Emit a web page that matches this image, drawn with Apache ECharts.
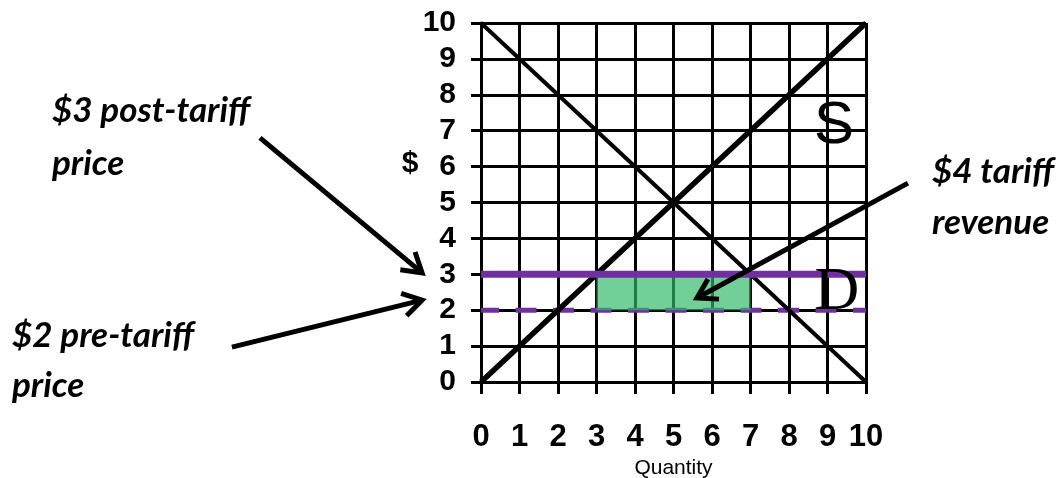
<!DOCTYPE html>
<html>
<head>
<meta charset="utf-8">
<script src="https://cdn.jsdelivr.net/npm/echarts@6/dist/echarts.min.js"></script>
<style>
  html, body { margin: 0; padding: 0; background: #fff; }
  #chart { width: 1063px; height: 478px; }
</style>
</head>
<body>
<div id="chart"></div>
<script>
// Axis ticks (quantity and price)
const quantityTicks = [0, 1, 2, 3, 4, 5, 6, 7, 8, 9, 10];
const priceTicks = [0, 1, 2, 3, 4, 5, 6, 7, 8, 9, 10];

// Supply and demand curves (endpoints)
const supplyQuantity = [0, 10];
const supplyPrice = [0, 10];
const demandQuantity = [0, 10];
const demandPrice = [10, 0];

// World price before and after the tariff
const preTariffPrice = 2;
const postTariffPrice = 3;

// Quantity range of imports after the tariff (tariff revenue box)
const importQuantity = [3, 7];

// Callout arrows: [tailQ, tailP, tipQ, tipP] in axis units
const calloutArrows = [
  [-5.74, 6.80, -1.53, 3.04],
  [-6.47, 0.97, -1.53, 2.28],
  [11.09, 5.54, 5.61, 2.34]
];

const PURPLE = '#7030A0';
const SANS = 'Arial, sans-serif';
const NOTE = 'Lato';

const chart = echarts.init(document.getElementById('chart'), null, { renderer: 'canvas' });

const toPairs = (xs, ys) => xs.map((x, i) => [x, ys[i]]);

chart.setOption({
  animation: false,
  backgroundColor: '#fff',
  grid: { left: 481, top: 23, width: 385, height: 359, containLabel: false, outerBoundsMode: 'none' },
  xAxis: {
    type: 'value',
    min: quantityTicks[0],
    max: quantityTicks[quantityTicks.length - 1],
    interval: 1,
    name: 'Quantity',
    nameLocation: 'middle',
    nameGap: 74,
    nameTextStyle: { fontFamily: SANS, fontSize: 21, color: '#000' },
    axisLine: { show: true, lineStyle: { color: '#000', width: 3 } },
    axisTick: { show: true, length: 12, lineStyle: { color: '#000', width: 3 } },
    axisLabel: {
      margin: 40, color: '#000', fontFamily: SANS, fontSize: 31, fontWeight: 'bold',
      formatter: v => String(v)
    },
    splitLine: { show: true, lineStyle: { color: '#000', width: 3 } }
  },
  yAxis: {
    type: 'value',
    min: priceTicks[0],
    max: priceTicks[priceTicks.length - 1],
    interval: 1,
    axisLine: { show: true, lineStyle: { color: '#000', width: 3 } },
    axisTick: { show: true, length: 10, lineStyle: { color: '#000', width: 3 } },
    axisLabel: {
      margin: 25, color: '#000', fontFamily: SANS, fontSize: 30, fontWeight: 'bold',
      formatter: v => String(v)
    },
    splitLine: { show: true, lineStyle: { color: '#000', width: 3 } }
  },
  series: [
    {
      name: 'Pre-tariff price',
      type: 'line',
      z: 3,
      symbol: 'none',
      data: [[quantityTicks[0], preTariffPrice], [quantityTicks[quantityTicks.length - 1], preTariffPrice]],
      lineStyle: { color: PURPLE, width: 5, type: [21, 16.5], dashOffset: 3 }
    },
    {
      name: 'S',
      type: 'line',
      z: 3,
      symbol: 'none',
      data: toPairs(supplyQuantity, supplyPrice),
      lineStyle: { color: '#000', width: 5.5 }
    },
    {
      name: 'D',
      type: 'line',
      z: 3,
      symbol: 'none',
      data: toPairs(demandQuantity, demandPrice),
      lineStyle: { color: '#000', width: 4 }
    },
    {
      name: 'Tariff revenue',
      type: 'custom',
      z: 4,
      data: [[importQuantity[0], preTariffPrice, importQuantity[1], postTariffPrice]],
      renderItem: (params, api) => {
        const a = api.coord([api.value(0), api.value(1)]);
        const b = api.coord([api.value(2), api.value(3)]);
        return {
          type: 'rect',
          shape: { x: a[0], y: b[1], width: b[0] - a[0], height: a[1] - b[1] },
          style: { fill: 'rgba(46,184,102,0.68)' }
        };
      }
    },
    {
      name: 'Post-tariff price',
      type: 'line',
      z: 5,
      symbol: 'none',
      data: [[quantityTicks[0], postTariffPrice], [quantityTicks[quantityTicks.length - 1], postTariffPrice]],
      lineStyle: { color: PURPLE, width: 7 }
    }
  ]
});

// Callout arrows with open chevron heads
function arrowGraphics(spec) {
  const tail = chart.convertToPixel({ gridIndex: 0 }, [spec[0], spec[1]]);
  const tip = chart.convertToPixel({ gridIndex: 0 }, [spec[2], spec[3]]);
  const ang = Math.atan2(tip[1] - tail[1], tip[0] - tail[0]);
  const len = 22, spread = 0.55;
  const h1 = [tip[0] - len * Math.cos(ang - spread), tip[1] - len * Math.sin(ang - spread)];
  const h2 = [tip[0] - len * Math.cos(ang + spread), tip[1] - len * Math.sin(ang + spread)];
  const style = { stroke: '#000', lineWidth: 5, fill: null, lineCap: 'butt', lineJoin: 'miter' };
  return [
    { type: 'line', z: 10, shape: { x1: tail[0], y1: tail[1], x2: tip[0], y2: tip[1] }, style },
    { type: 'polyline', z: 10, shape: { points: [h1, tip, h2] }, style }
  ];
}

function label(text, x, y, family, size, bold, italic, align) {
  const style = {
    text, fill: '#000', fontFamily: family, fontSize: size,
    align: align || 'left', verticalAlign: 'middle'
  };
  if (bold) style.fontWeight = 'bold';
  if (italic) style.fontStyle = 'italic';
  return { type: 'text', z: 10, x, y, style };
}

const graphics = [];
calloutArrows.forEach(a => graphics.push(...arrowGraphics(a)));
graphics.push(
  label('$3 post-tariff', 52, 111, NOTE, 35, true, true),
  label('price', 52, 164, NOTE, 35, true, true),
  label('$2 pre-tariff', 12, 336, NOTE, 35, true, true),
  label('price', 12, 386, NOTE, 35, true, true),
  label('$4 tariff', 932, 172, NOTE, 35, true, true),
  label('revenue', 932, 223, NOTE, 35, true, true),
  label('$', 410, 164, SANS, 30, true, false, 'center'),
  label('S', 834, 126, SANS, 60, false, false, 'center'),
  label('D', 837, 293, 'Liberation Serif', 62, false, false, 'center')
);
chart.setOption({ graphic: graphics });
</script>
</body>
</html>
